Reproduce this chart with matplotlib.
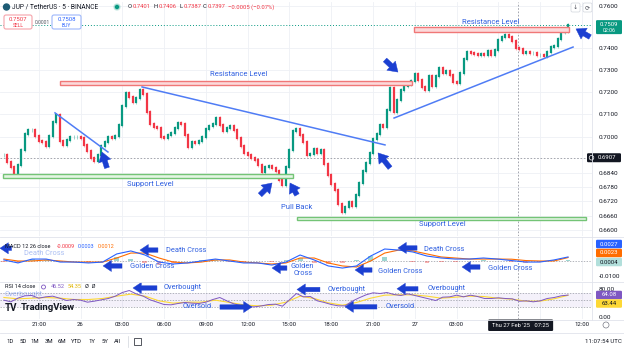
import numpy as np
import matplotlib
matplotlib.use("Agg")
import matplotlib.pyplot as plt
from matplotlib.patches import Rectangle, FancyBboxPatch, Circle
from matplotlib.ticker import FixedLocator, FuncFormatter, NullLocator, NullFormatter

plt.rcParams['font.family'] = ['Roboto', 'DejaVu Sans']

# ---------------- data ----------------
BAR_HOURS = 0.25          # one candle per 15 minutes
FIRST_BAR_T = -5.5        # hours after 26 Feb 2025 00:00 UTC

close = [0.6919, 0.6889, 0.6867, 0.6841, 0.6876, 0.6941, 0.7011, 0.7029, 0.7029, 0.7002,
         0.6980, 0.6976, 0.6958, 0.7002, 0.7064, 0.7096, 0.6980, 0.6963, 0.6985, 0.6998,
         0.6998, 0.6998, 0.6993, 0.6963, 0.6936, 0.6906, 0.6893, 0.6919, 0.6958, 0.6976,
         0.6998, 0.6993, 0.7002, 0.7051, 0.7136, 0.7195, 0.7176, 0.7154, 0.7172, 0.7208,
         0.7190, 0.7109, 0.7055, 0.7042, 0.7038, 0.6998, 0.6993, 0.7007, 0.7016, 0.7038,
         0.7060, 0.7055, 0.7007, 0.6954, 0.6976, 0.6971, 0.6980, 0.6998, 0.7033, 0.7047,
         0.7055, 0.7082, 0.7051, 0.7024, 0.7038, 0.7047, 0.7029, 0.6993, 0.6958, 0.6928,
         0.6919, 0.6906, 0.6897, 0.6876, 0.6845, 0.6867, 0.6871, 0.6863, 0.6850, 0.6811,
         0.6789, 0.6867, 0.6941, 0.7024, 0.7033, 0.7007, 0.6976, 0.6919, 0.6923, 0.6945,
         0.6928, 0.6941, 0.6880, 0.6832, 0.6794, 0.6768, 0.6709, 0.6675, 0.6696, 0.6717,
         0.6700, 0.6747, 0.6798, 0.6850, 0.6884, 0.6928, 0.6989, 0.7011, 0.7051, 0.7042,
         0.7118, 0.7217, 0.7109, 0.7163, 0.7208, 0.7226, 0.7235, 0.7249, 0.7281, 0.7254,
         0.7222, 0.7208, 0.7272, 0.7226, 0.7272, 0.7309, 0.7286, 0.7295, 0.7277, 0.7245,
         0.7240, 0.7286, 0.7350, 0.7383, 0.7378, 0.7374, 0.7369, 0.7374, 0.7369, 0.7388,
         0.7369, 0.7392, 0.7439, 0.7452, 0.7463, 0.7455, 0.7434, 0.7402, 0.7397, 0.7378,
         0.7383, 0.7378, 0.7378, 0.7369, 0.7369, 0.7364, 0.7383, 0.7406, 0.7411, 0.7444,
         0.7477, 0.7481, 0.7509]

macd_line = [0.0007, -0.0013, 0.0013, 0.0013, -0.0007, -0.0007, -0.0013, -0.0007, 0.0047, 0.0067,
             0.0040, -0.0007, -0.0020, -0.0013, 0.0000, 0.0013, 0.0000, -0.0013, -0.0013, -0.0027,
             -0.0007, 0.0040, 0.0007, -0.0033, -0.0047, -0.0033, 0.0033, 0.0080, 0.0073, 0.0060,
             0.0033, 0.0020, 0.0013, 0.0013, 0.0020, 0.0013, 0.0003, -0.0007, -0.0007, 0.0007,
             0.0027]
signal_line = [0.0013, 0.0000, 0.0000, 0.0007, 0.0000, -0.0007, -0.0007, -0.0007, 0.0020, 0.0053,
               0.0053, 0.0020, -0.0007, -0.0013, -0.0007, 0.0007, 0.0007, -0.0007, -0.0013, -0.0020,
               -0.0013, 0.0020, 0.0020, -0.0013, -0.0033, -0.0040, 0.0000, 0.0053, 0.0073, 0.0067,
               0.0047, 0.0027, 0.0020, 0.0013, 0.0013, 0.0013, 0.0012, 0.0003, 0.0000, 0.0000,
               0.0023]

rsi = [49.5, 44.8, 55.2, 61.9, 62.9, 55.2, 59.0, 61.0, 55.2, 48.6,
       51.4, 49.5, 43.8, 46.7, 50.5, 54.3, 61.0, 71.4, 77.1, 67.6,
       61.0, 50.5, 43.8, 37.1, 36.2, 40.0, 42.9, 41.0, 40.0, 43.8,
       51.4, 57.1, 47.6, 39.0, 34.3, 30.5, 30.5, 33.3, 37.1, 38.1,
       32.4, 50.5, 68.6, 59.0, 60.0, 47.6, 42.9, 37.1, 33.3, 33.3,
       46.7, 56.2, 64.8, 70.5, 68.6, 71.4, 65.7, 62.9, 67.6, 62.9,
       58.1, 53.3, 48.6, 58.1, 59.0, 63.8, 59.0, 63.8, 60.0, 54.3,
       54.3, 56.2, 54.3, 53.3, 46.5, 47.6, 44.8, 47.6, 54.3, 57.1,
       61.9, 64.08]
rsi_ma = [57.1, 53.3, 55.2, 57.1, 55.2, 51.4, 51.4, 54.3, 61.0, 66.7,
          61.0, 47.6, 41.0, 43.8, 43.8, 49.5, 42.9, 36.2, 33.3, 35.2,
          43.8, 61.0, 54.3, 41.9, 35.2, 42.9, 55.2, 63.8, 64.8, 64.8,
          61.0, 55.2, 58.1, 61.0, 60.0, 55.2, 52.4, 46.7, 46.7, 53.3,
          63.44]

price_ticks = [0.7600, 0.7400, 0.7300, 0.7200, 0.7100, 0.7000, 0.6840, 0.6780, 0.6720, 0.6660, 0.6600]
time_ticks = [-3, 0, 3, 6, 9, 12, 15, 18, 21, 24, 27, 36]
time_labels = ['21:00', '26', '03:00', '06:00', '09:00', '12:00', '15:00', '18:00', '21:00', '27', '03:00', '12:00']
grid_times = [-3, 0, 3, 6, 9, 12, 15, 18, 21, 24, 27, 30, 33, 36]

# levels: (t_start, t_end, price_low, price_high)
resistance_zones = [(-1.47, 23.8, 0.7231, 0.7249), (23.94, 35.07, 0.7477, 0.7501)]
support_zones = [(-5.56, 15.25, 0.6819, 0.6837), (15.54, 36.29, 0.6641, 0.6654)]
# trend lines: (t0, p0, t1, p1)
trend_lines = [(-1.83, 0.7105, 1.97, 0.6932), (4.42, 0.7222, 21.86, 0.6963), (22.51, 0.7082, 35.36, 0.7406)]
price_labels = [(11.32, 0.7281, 'Resistance Level'), (29.47, 0.7524, 'Resistance Level'),
                (4.99, 0.6794, 'Support Level'), (25.95, 0.6626, 'Support Level'),
                (15.54, 0.6696, 'Pull Back')]
# arrows: (t_tail, v_tail, t_tip, v_tip)
price_arrows = [(1.90, 0.6863, 1.54, 0.6932), (12.89, 0.6747, 13.75, 0.6798),
                (15.54, 0.6747, 15.04, 0.6798), (21.86, 0.7346, 22.79, 0.7290),
                (22.22, 0.6863, 21.36, 0.6928), (36.58, 0.7453, 35.57, 0.7491)]
macd_arrows = [(5.56, 0.0073, 4.27, 0.0073), (2.98, -0.0033, 1.62, -0.0033), (14.82, -0.0047, 13.75, -0.0047),
               (24.16, 0.0087, 22.79, 0.0087), (20.93, -0.0060, 19.71, -0.0060), (28.68, -0.0040, 27.39, -0.0040),
               (-4.95, 0.0085, -5.78, 0.0085)]
macd_labels = [(7.57, 0.0073, 'Death Cross'), (5.13, -0.0038, 'Golden Cross'), (15.95, -0.0060, 'Golden\nCross'),
               (26.09, 0.0080, 'Death Cross'), (22.94, -0.0067, 'Golden Cross'), (30.83, -0.0047, 'Golden Cross')]
rsi_arrows = [(5.49, 84.3, 3.77, 84.3), (10.01, 30.0, 12.31, 30.0), (17.19, 80.0, 15.54, 80.0),
              (21.28, 30.5, 18.99, 30.5), (24.23, 82.0, 22.72, 82.0)]
rsi_labels = [(7.36, 84.3, 'Overbought'), (8.36, 30.0, 'Oversold'), (19.13, 81.4, 'Overbought'),
              (22.94, 30.0, 'Oversold'), (26.31, 82.0, 'Overbought')]

CURSOR_T = 31.417
CURSOR_PRICE = 0.6907
HOVER_K = 36
header_ohlc = [('O', '0.7401'), ('H', '0.7406'), ('L', '0.7387'), ('C', '0.7397')]
header_change = '−0.0005 (−0.07%)'
rsi_legend_vals = ['46.52', '54.35']

# ---------------- style / layout ----------------
W, H = 624, 351
PX_T0, PX_PER_H, PLOT_R = 80.5, 13.93, 592
XLIM = (-PX_T0 / PX_PER_H, (PLOT_R - PX_T0) / PX_PER_H)
UP, DN = '#089981', '#f23645'
ANN_TXT = '#2f5fe0'
ARROW_C = '#1b3fd1'
TREND_C = '#4f7cf5'
GRID_C = '#eef0f5'
TXT = '#131722'
WICK = 0.0011
FS_AX = 4.6

fig = plt.figure(figsize=(W / 100, H / 100), dpi=100)
fig.patch.set_facecolor('white')


def pax(y0, y1):
    a = fig.add_axes([0, 1 - y1 / H, PLOT_R / W, (y1 - y0) / H])
    a.set_xlim(XLIM)
    for s in a.spines.values():
        s.set_visible(False)
    a.set_xticks([])
    a.yaxis.tick_right()
    a.tick_params(axis='y', length=0, labelsize=FS_AX, pad=5, labelcolor=TXT)
    for gt in grid_times:
        a.axvline(gt, color=GRID_C, lw=0.6, zorder=0)
    a.axvline(CURSOR_T, color='#9598a1', lw=0.6, ls=(0, (2, 2)), zorder=1)
    return a


# ---- price pane ----
ax_p = pax(2, 236)
ax_p.set_yscale('log')
ax_p.set_ylim(0.65746, 0.76192)
ax_p.yaxis.set_major_locator(FixedLocator(price_ticks))
ax_p.yaxis.set_minor_locator(NullLocator())
ax_p.yaxis.set_minor_formatter(NullFormatter())
ax_p.yaxis.set_major_formatter(FuncFormatter(lambda v, _: f'{v:.4f}'))
for pt in price_ticks:
    ax_p.axhline(pt, color=GRID_C, lw=0.6, zorder=0)

c = np.array(close)
o = np.r_[c[0], c[:-1]]
t = FIRST_BAR_T + BAR_HOURS * np.arange(len(c))
cols = np.where(c >= o, UP, DN)
ax_p.vlines(t, np.minimum(o, c) * (1 - WICK), np.maximum(o, c) * (1 + WICK), colors=cols, lw=0.5, alpha=0.55, zorder=3)
ax_p.vlines(t, np.minimum(o, c), np.maximum(o, c), colors=cols, lw=1.6, capstyle='projecting', zorder=4)

ax_p.axhline(close[-1], color=UP, lw=0.7, ls=(0, (1, 2)), zorder=2)
ax_p.axhline(CURSOR_PRICE, color='#9598a1', lw=0.6, ls=(0, (2, 2)), zorder=2)

for t0, t1, lo, hi in resistance_zones:
    ax_p.add_patch(Rectangle((t0, lo), t1 - t0, hi - lo, fc='#fcd9da', ec='#f07777', lw=1.0, zorder=5))
for t0, t1, lo, hi in support_zones:
    ax_p.add_patch(Rectangle((t0, lo), t1 - t0, hi - lo, fc='#e5f5e4', ec='#74c476', lw=1.0, zorder=5))
for t0, p0, t1, p1 in trend_lines:
    ax_p.plot([t0, t1], [p0, p1], color=TREND_C, lw=1.1, zorder=6)
for tx, px, s in price_labels:
    ax_p.text(tx, px, s, color=ANN_TXT, fontsize=5.5, ha='center', va='center', zorder=7)


def arrows(ax, lst, ms=8.5):
    for a0, b0, a1, b1 in lst:
        ax.annotate('', xy=(a1, b1), xytext=(a0, b0), annotation_clip=False, zorder=8,
                    arrowprops=dict(arrowstyle='simple,head_length=0.75,head_width=1.0,tail_width=0.4',
                                    fc=ARROW_C, ec=ARROW_C, lw=0.3, shrinkA=0, shrinkB=0, mutation_scale=ms))


arrows(ax_p, price_arrows, 9)

# ---- MACD pane ----
ax_m = pax(237, 281)
ax_m.set_ylim(-0.013333, 0.016)
ax_m.set_yticks([-0.01])
ax_m.set_yticklabels(['-0.0100'])
ti = np.linspace(FIRST_BAR_T, t[-1], len(macd_line))
ax_m.axhline(0, color='#9598a1', lw=0.5, ls=(0, (2, 2)), zorder=1)
hist = np.array(macd_line) - np.array(signal_line)
ax_m.bar(ti, hist, width=0.35, color=np.where(hist >= 0, '#26a69a', '#ef5350'), alpha=0.45, zorder=2)
ax_m.plot(ti, signal_line, color='#ff6d00', lw=0.8, zorder=3)
ax_m.plot(ti, macd_line, color='#2962ff', lw=0.8, zorder=4)
arrows(ax_m, macd_arrows, 8)
for tx, v, s in macd_labels:
    ax_m.text(tx, v, s, color=ANN_TXT, fontsize=5.3, ha='center', va='center', zorder=7, linespacing=1.0)
ax_m.text(-2.6, 0.0050, 'Death Cross', color=ANN_TXT, fontsize=5.3, ha='center', va='center', alpha=0.4)

# ---- RSI pane ----
ax_r = pax(283, 319)
ax_r.set_ylim(-4.29, 98.57)
ax_r.set_yticks([80, 0])
ax_r.set_yticklabels(['80.00', '0.00'])
ax_r.axhspan(30, 70, color='#7e57c2', alpha=0.08, lw=0, zorder=0)
for lv in (70, 50, 30):
    ax_r.axhline(lv, color='#9598a1', lw=0.5, ls=(0, (2, 2)), zorder=1)
tr = np.linspace(FIRST_BAR_T, t[-1], len(rsi))
tm = np.linspace(FIRST_BAR_T, t[-1], len(rsi_ma))
ax_r.plot(tm, rsi_ma, color='#fdd835', lw=0.8, zorder=3)
ax_r.plot(tr, rsi, color='#7e57c2', lw=0.7, zorder=4)
arrows(ax_r, rsi_arrows, 8)
for tx, v, s in rsi_labels:
    ax_r.text(tx, v, s, color=ANN_TXT, fontsize=5.3, ha='center', va='center', zorder=7)
ax_r.text(-4.1, 64.3, 'Overbought', color=ANN_TXT, fontsize=5.3, ha='center', va='center', alpha=0.4)

# ---------------- overlay (UI chrome) ----------------
ov = fig.add_axes([0, 0, 1, 1])
ov.set_xlim(0, W)
ov.set_ylim(H, 0)
ov.axis('off')
ov.set_zorder(20)
ov.patch.set_alpha(0)


def xpx(tt):
    return ax_p.transData.transform((tt, 0.7))[0]


def ypx(ax, v):
    return H - ax.transData.transform((XLIM[0], v))[1]


# separators
for yy in (236.5, 282, 319.5, 333):
    ov.plot([0, W], [yy, yy], color='#e0e3eb', lw=0.6)
ov.plot([PLOT_R, PLOT_R], [0, 319.5], color='#e0e3eb', lw=0.6)

# header
ov.add_patch(Circle((6.5, 7), 3.0, color='#1d5b74'))
ov.text(12, 7, 'JUP / TetherUS · 5 · BINANCE', fontsize=4.8, color=TXT, va='center')
ov.add_patch(Circle((117, 7), 3.0, color=UP, alpha=0.2))
ov.add_patch(Circle((117, 7), 1.5, color=UP))
xs = [128, 154, 179, 203]
for (lab, val), x0 in zip(header_ohlc, xs):
    ov.text(x0, 7, lab, fontsize=4.2, color=TXT, va='center')
    ov.text(x0 + 4.3, 7, val, fontsize=4.2, color=DN, va='center')
ov.text(228, 7, header_change, fontsize=4.2, color=DN, va='center')
ov.add_patch(FancyBboxPatch((4, 15), 28, 14, boxstyle='round,pad=0,rounding_size=2', fc='white', ec='#f5a3aa', lw=0.8))
ov.text(18, 19.5, '0.7507', fontsize=4.3, color=DN, ha='center', va='center')
ov.text(18, 25.5, 'SELL', fontsize=3.6, color=DN, ha='center', va='center')
ov.text(42, 22.5, '0.0001', fontsize=3.6, color='#50535e', ha='center', va='center')
ov.add_patch(FancyBboxPatch((52, 15), 29, 14, boxstyle='round,pad=0,rounding_size=2', fc='white', ec='#9db7fb', lw=0.8))
ov.text(66.5, 19.5, '0.7508', fontsize=4.3, color='#2962ff', ha='center', va='center')
ov.text(66.5, 25.5, 'BUY', fontsize=3.6, color='#2962ff', ha='center', va='center')
for x0, g in ((571, '↓'), (583, '⟳')):
    ov.add_patch(FancyBboxPatch((x0, 3), 9, 9, boxstyle='round,pad=0,rounding_size=1.5', fc='white', ec='#d1d4dc', lw=0.5))
    ov.text(x0 + 4.5, 7.6, g, fontsize=4.5, color='#50535e', ha='center', va='center', family=['DejaVu Sans'])


def tag(y, text, fc, tc='white', x0=596, x1=622, h=8.5):
    ov.add_patch(FancyBboxPatch((x0, y - h / 2), x1 - x0, h, boxstyle='round,pad=0,rounding_size=1.2', fc=fc, ec='none'))
    ov.text((x0 + x1) / 2, y, text, color=tc, fontsize=4.3, ha='center', va='center')


# right tags
y_last = ypx(ax_p, close[-1])
ov.add_patch(FancyBboxPatch((596, y_last - 5), 26, 14, boxstyle='round,pad=0,rounding_size=1.2', fc=UP, ec='none'))
ov.text(609, y_last - 0.5, f'{close[-1]:.4f}', color='white', fontsize=4.3, ha='center', va='center')
ov.text(609, y_last + 5.5, '02:06', color='white', fontsize=3.8, ha='center', va='center')
y_cur = ypx(ax_p, CURSOR_PRICE)
ov.add_patch(FancyBboxPatch((587, y_cur - 4.5), 34, 9, boxstyle='round,pad=0,rounding_size=1.2', fc=TXT, ec='none'))
ov.add_patch(Circle((591.5, y_cur), 2.3, fc='none', ec='white', lw=0.5))
ov.text(607, y_cur, f'{CURSOR_PRICE:.4f}', color='white', fontsize=4.3, ha='center', va='center')
tag(244, f'{macd_line[-1]:.4f}', '#2962ff')
tag(253, f'{signal_line[-1]:.4f}', '#ff6d00')
tag(262, f'{macd_line[-1] - signal_line[-1]:.4f}', '#b2dfdb', TXT)
tag(295, f'{rsi[-1]:.2f}', '#7e57c2')
tag(303.5, f'{rsi_ma[-1]:.2f}', '#fdd835', TXT)

# indicator legends
ov.text(5, 246, 'MACD 12 26 close', fontsize=4.0, color=TXT, va='center')
ov.text(57, 246, f'{macd_line[HOVER_K] - signal_line[HOVER_K]:.4f}', fontsize=4.0, color=DN, va='center')
ov.text(78, 246, f'{macd_line[HOVER_K]:.4f}', fontsize=4.0, color='#2962ff', va='center')
ov.text(98, 246, f'{signal_line[HOVER_K]:.4f}', fontsize=4.0, color='#ff6d00', va='center')
ov.text(5, 287, 'RSI 14 close', fontsize=4.0, color=TXT, va='center')
ov.add_patch(Circle((43.5, 287), 2.0, fc='none', ec='#7e57c2', lw=0.6))
ov.text(51, 287, rsi_legend_vals[0], fontsize=4.0, color='#7e57c2', va='center')
ov.text(68, 287, rsi_legend_vals[1], fontsize=4.0, color='#e0b400', va='center')
ov.text(85, 287, 'Ø  Ø', fontsize=4.0, color=TXT, va='center')

# TradingView logo
ov.text(5, 308, 'TV', fontsize=7, color=TXT, va='center', fontweight='bold')
ov.text(21, 308, 'TradingView', fontsize=6.8, color=TXT, va='center', fontweight='bold')

# time axis
for tt, lab in zip(time_ticks, time_labels):
    if tt in (30, 33):
        continue
    ov.text(xpx(tt), 325, lab, fontsize=4.3, color=TXT, ha='center', va='center')
cx = xpx(CURSOR_T)
ov.add_patch(FancyBboxPatch((cx - 30, 319.5), 65, 11.5, boxstyle='round,pad=0,rounding_size=1.2', fc=TXT, ec='none'))
ov.text(cx + 2.5, 325.3, "Thu 27 Feb '25   07:25", fontsize=4.2, color='white', ha='center', va='center')
ov.add_patch(Circle((606, 325), 3.0, fc='none', ec='#787b86', lw=0.5))

# bottom toolbar
for lab, x0 in zip(['1D', '5D', '1M', '3M', '6M', 'YTD', '1Y', '5Y', 'All'],
                   [10, 23, 35, 49, 62, 76, 92, 105, 117]):
    ov.text(x0, 341.5, lab, fontsize=4.3, color=TXT, ha='center', va='center')
ov.plot([128, 128], [336, 347], color='#d1d4dc', lw=0.5)
ov.add_patch(Rectangle((133.5, 338), 7, 7, fc='none', ec=TXT, lw=0.5))
ov.text(603, 341.5, '11:07:54 UTC', fontsize=4.4, color=TXT, ha='center', va='center')

fig.savefig('out.png', dpi=100)
